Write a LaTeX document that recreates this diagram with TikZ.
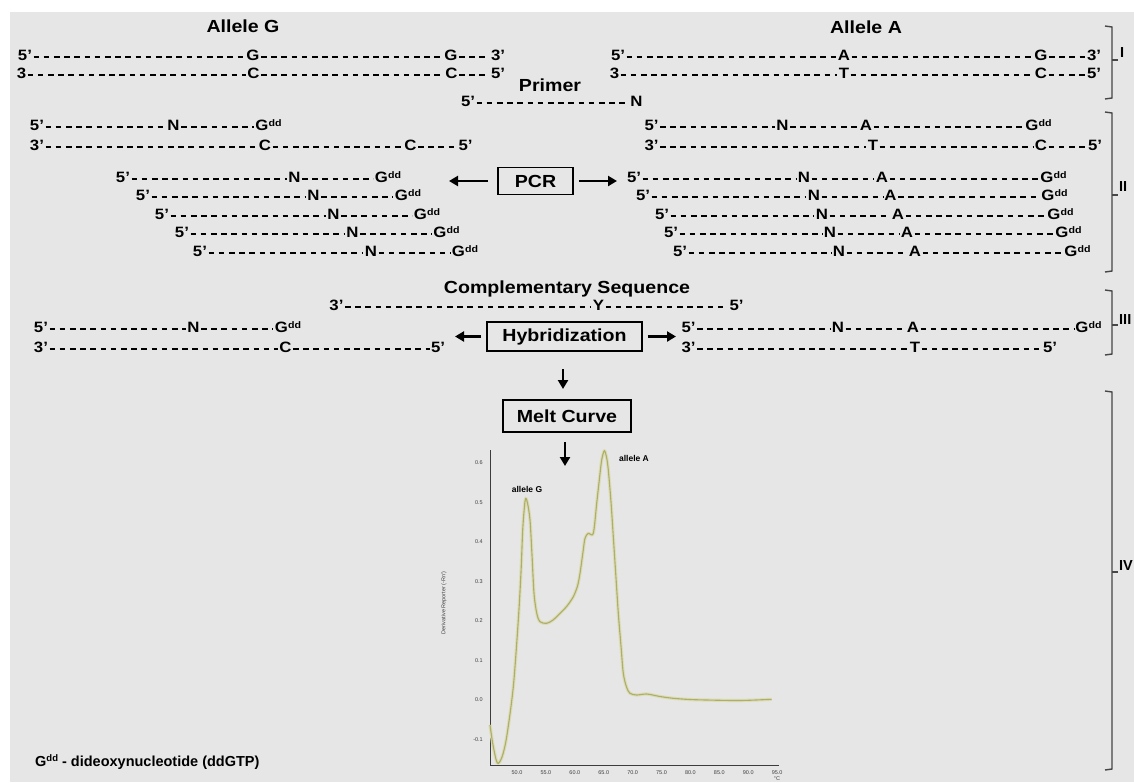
\documentclass[tikz,border=0pt]{standalone}
\usepackage{fontspec}
\setmainfont{Liberation Sans}[FakeStretch=1.12]
\newfontfamily\plainf{Liberation Sans}
\usetikzlibrary{arrows.meta}
\definecolor{bggray}{RGB}{230,230,230}
\definecolor{curvecol}{RGB}{192,192,120}
\definecolor{brkc}{RGB}{70,70,70}
\definecolor{axc}{RGB}{60,60,60}
\newcommand{\rowf}{\fontsize{15}{17}\selectfont\bfseries}
\newcommand{\headf}{\fontsize{17.5}{20}\selectfont\bfseries}
\newcommand{\Gdd}{G\rlap{\raisebox{4.5pt}{\fontsize{9.5}{10}\selectfont dd}}}
\begin{document}
\begin{tikzpicture}[x=1pt,y=-1pt,
  lt/.style={font=\rowf, inner xsep=1.3pt, inner ysep=0pt, text height=8pt, text depth=0pt, anchor=base},
  strand/.style={line width=2pt, dash pattern=on 5.6pt off 4.6pt},
  head/.style={font=\headf, inner sep=0pt},
  proc/.style={draw, line width=1.8pt, font=\headf, inner sep=0pt},
  arr/.style={line width=2.4pt, -{Triangle[length=9pt,width=10pt]}},
  darr/.style={line width=2.6pt, -{Triangle[length=9pt,width=10pt]}},
  brk/.style={draw=brkc, line width=1.4pt},
  rn/.style={font=\plainf\bfseries\fontsize{14.5}{17}\selectfont, anchor=base west, inner sep=0pt},
  tick/.style={font=\plainf\fontsize{5.5}{6}\selectfont, text=black!75, inner sep=0pt},
  alab/.style={font=\plainf\bfseries\fontsize{8.5}{10}\selectfont, inner sep=0pt}]
\useasboundingbox (0,0) rectangle (1134,782);
\fill[white] (0,0) rectangle (1134,782);
\fill[bggray] (10,12) rectangle (1134,782);

% ---------- Section I ----------
\node[head] (alg) at (243,26) {Allele G};
\node[head] (ala) at (866,27) {Allele A};

\node[lt] (l1a) at (25,60.5) {5’};
\node[lt] (l1b) at (253,60.5) {G};
\node[lt] (l1c) at (451,60.5) {G};
\node[lt] (l1d) at (498,60.5) {3’};
\draw[strand] (l1a) -- (l1b) -- (l1c) -- (l1d);
\node[lt] (l2a) at (21.5,78.5) {3};
\node[lt] (l2b) at (253.5,78.5) {C};
\node[lt] (l2c) at (451.5,78.5) {C};
\node[lt] (l2d) at (498,78.5) {5’};
\draw[strand] (l2a) -- (l2b) -- (l2c) -- (l2d);

\node[lt] (r1a) at (618,60.5) {5’};
\node[lt] (r1b) at (844,60.5) {A};
\node[lt] (r1c) at (1041,60.5) {G};
\node[lt] (r1d) at (1094,60.5) {3’};
\draw[strand] (r1a) -- (r1b) -- (r1c) -- (r1d);
\node[lt] (r2a) at (614.5,78.5) {3};
\node[lt] (r2b) at (844,78.5) {T};
\node[lt] (r2c) at (1041,78.5) {C};
\node[lt] (r2d) at (1094,78.5) {5’};
\draw[strand] (r2a) -- (r2b) -- (r2c) -- (r2d);

\node[head] (primer) at (550,85) {Primer};
\node[lt] (pa) at (468,106.5) {5’};
\node[lt] (pn) at (636.5,106.5) {N};
\draw[strand] (pa) -- (pn);

% ---------- Section II ----------
\node[lt] (m1a) at (37,130.5) {5’};
\node[lt] (m1n) at (173.5,130.5) {N};
\node[lt] (m1g) at (262,130.5) {\Gdd};
\draw[strand] (m1a) -- (m1n) -- (m1g);
\node[lt] (m2a) at (37,150.5) {3’};
\node[lt] (m2b) at (265,150.5) {C};
\node[lt] (m2c) at (410.5,150.5) {C};
\node[lt] (m2d) at (465.5,150.5) {5’};
\draw[strand] (m2a) -- (m2b) -- (m2c) -- (m2d);

\node[lt] (n1a) at (651.5,130.5) {5’};
\node[lt] (n1n) at (782.5,130.5) {N};
\node[lt] (n1b) at (866,130.5) {A};
\node[lt] (n1g) at (1032,130.5) {\Gdd};
\draw[strand] (n1a) -- (n1n) -- (n1b) -- (n1g);
\node[lt] (n2a) at (651.5,150.5) {3’};
\node[lt] (n2b) at (873,150.5) {T};
\node[lt] (n2c) at (1041,150.5) {C};
\node[lt] (n2d) at (1095,150.5) {5’};
\draw[strand] (n2a) -- (n2b) -- (n2c) -- (n2d);

\foreach \i/\y/\a/\n/\g in {1/182.5/123/294.5/381.5, 2/200.5/143/313.5/401.5, 3/219.5/162/333.5/420.5, 4/237.5/182/352.5/440, 5/256.5/200/371/458.5}{
  \node[lt] (sla\i) at (\a,\y) {5’};
  \node[lt] (sln\i) at (\n,\y) {N};
  \node[lt] (slg\i) at (\g,\y) {\Gdd};
  \draw[strand] (sla\i) -- (sln\i) -- (slg\i);
}
\foreach \i/\y/\a/\n/\b/\g in {1/182.5/634/804/882/1047, 2/200.5/643/814/890.5/1048, 3/219.5/662/822/898/1054, 4/237.5/671/830/907/1062, 5/256.5/680/839/915/1071}{
  \node[lt] (sra\i) at (\a,\y) {5’};
  \node[lt] (srn\i) at (\n,\y) {N};
  \node[lt] (srb\i) at (\b,\y) {A};
  \node[lt] (srg\i) at (\g,\y) {\Gdd};
  \draw[strand] (sra\i) -- (srn\i) -- (srb\i) -- (srg\i);
}

\node[proc, minimum width=75pt, minimum height=27pt] (pcr) at (535.5,181) {PCR};
\coordinate (pcrL) at (449,181);
\coordinate (pcrR) at (617,181);
\draw[arr, shorten <=9pt] (pcr.west) -- (pcrL);
\draw[arr, shorten <=5pt] (pcr.east) -- (pcrR);

% ---------- Section III ----------
\node[head] (comp) at (567,289) {Complementary Sequence};
\node[lt] (ca) at (336.5,310.5) {3’};
\node[lt] (cy) at (598.5,310.5) {Y};
\node[lt] (cb) at (736.5,310.5) {5’};
\draw[strand] (ca) -- (cy) -- (cb);

\node[lt] (h1a) at (41,332.5) {5’};
\node[lt] (h1n) at (193.5,332.5) {N};
\node[lt] (h1g) at (281.5,332.5) {\Gdd};
\draw[strand] (h1a) -- (h1n) -- (h1g);
\node[lt] (h2a) at (41,352.5) {3’};
\node[lt] (h2b) at (285.5,352.5) {C};
\node[lt] (h2c) at (438,352.5) {5’};
\draw[strand] (h2a) -- (h2b) -- (h2c);

\node[lt] (k1a) at (688.5,332.5) {5’};
\node[lt] (k1n) at (838,332.5) {N};
\node[lt] (k1b) at (913,332.5) {A};
\node[lt] (k1g) at (1082,332.5) {\Gdd};
\draw[strand] (k1a) -- (k1n) -- (k1b) -- (k1g);
\node[lt] (k2a) at (688.5,352.5) {3’};
\node[lt] (k2b) at (915,352.5) {T};
\node[lt] (k2c) at (1050,352.5) {5’};
\draw[strand] (k2a) -- (k2b) -- (k2c);

\node[proc, minimum width=155pt, minimum height=29pt] (hyb) at (564.5,336.5) {Hybridization};
\coordinate (hybL) at (455,336.5);
\coordinate (hybR) at (676,336.5);
\draw[arr, shorten <=5pt] (hyb.west) -- (hybL);
\draw[arr, shorten <=5pt] (hyb.east) -- (hybR);

\node[proc, minimum width=128pt, minimum height=32pt] (melt) at (567,416) {Melt Curve};
\coordinate (d1s) at (563,369);
\coordinate (d1e) at (563,389);
\draw[darr] (d1s) -- (d1e);
\coordinate (d2s) at (565,442);
\coordinate (d2e) at (565,466);
\draw[darr] (d2s) -- (d2e);

% ---------- Brackets ----------
\draw[brk] (1105,26) -- (1112,27) -- (1112,98) -- (1105,99);
\draw[brk] (1112,60) -- (1118,60);
\node[rn] (bI) at (1120,57) {I};
\draw[brk] (1105,112) -- (1112,113) -- (1112,271) -- (1105,272);
\draw[brk] (1112,195) -- (1118,195);
\node[rn] (bII) at (1119,191) {II};
\draw[brk] (1105,290) -- (1112,291) -- (1112,354) -- (1105,355);
\draw[brk] (1112,325) -- (1118,325);
\node[rn] (bIII) at (1119,324) {III};
\draw[brk] (1105,391) -- (1112,392) -- (1112,769) -- (1105,770);
\draw[brk] (1112,572) -- (1118,572);
\node[rn] (bIV) at (1119,570) {IV};

% ---------- Chart ----------
\draw[axc, line width=1pt] (490.7,450) -- (490.7,765) -- (779,765);
\foreach \v/\t in {0.6/0.6, 0.5/0.5, 0.4/0.4, 0.3/0.3, 0.2/0.2, 0.1/0.1, 0.0/0.0, -0.1/-0.1}{
  \node[tick, anchor=east] at (483,{700-395*\v}) {\t};
}
\foreach \k/\t in {0/50.0,1/55.0,2/60.0,3/65.0,4/70.0,5/75.0,6/80.0,7/85.0,8/90.0,9/95.0}{
  \node[tick] at ({517+28.9*\k},773) {\t};
}
\node[tick] (degc) at (777,779) {°C};
\node[tick, rotate=90] (ylab) at (444,603) {Derivative Reporter (-Rn')};
\node[alab] (lg) at (527,489) {allele G};
\node[alab] (la) at (634,458) {allele A};
\draw[curvecol!55, line width=3.2pt, line join=round] plot[smooth, tension=0.5] coordinates {
 (490,725) (493,745) (497.3,763) (502,757) (506.7,736.7) (513.3,686.7) (518.3,620) (521,572) (522.7,530) (524.5,506) (525.7,498.3) (527.5,503) (530,520) (532,555) (534,593.3) (536.7,613) (540,621.7) (546.7,623.3) (553,620) (560,613.3) (567,606) (573.3,596.7) (577.5,586) (580,573.3) (583,552) (585,538.3) (588.3,533.3) (593.3,533.3) (596.7,503.3) (599.5,478) (601.7,460) (604.3,450.7) (606.5,457) (608.3,470) (611,502) (613.3,536.7) (616,578) (618.3,613.3) (621,646) (623.3,673.3) (626.5,687) (630,693.3) (636.7,695) (646.7,694) (660,696.5) (673.3,698.3) (690,699.5) (706.7,700) (740,700.5) (771.7,699.3)};
\draw[curvecol!90!black, line width=1.1pt, line join=round] plot[smooth, tension=0.5] coordinates {
 (490,725) (493,745) (497.3,763) (502,757) (506.7,736.7) (513.3,686.7) (518.3,620) (521,572) (522.7,530) (524.5,506) (525.7,498.3) (527.5,503) (530,520) (532,555) (534,593.3) (536.7,613) (540,621.7) (546.7,623.3) (553,620) (560,613.3) (567,606) (573.3,596.7) (577.5,586) (580,573.3) (583,552) (585,538.3) (588.3,533.3) (593.3,533.3) (596.7,503.3) (599.5,478) (601.7,460) (604.3,450.7) (606.5,457) (608.3,470) (611,502) (613.3,536.7) (616,578) (618.3,613.3) (621,646) (623.3,673.3) (626.5,687) (630,693.3) (636.7,695) (646.7,694) (660,696.5) (673.3,698.3) (690,699.5) (706.7,700) (740,700.5) (771.7,699.3)};

% ---------- Footnote ----------
\node[font=\plainf\bfseries\fontsize{14.5}{17}\selectfont, anchor=base west, inner sep=0pt] (foot) at (35,766) {G\raisebox{5pt}{\fontsize{9.5}{10}\selectfont dd} - dideoxynucleotide (ddGTP)};
\end{tikzpicture}
\end{document}
